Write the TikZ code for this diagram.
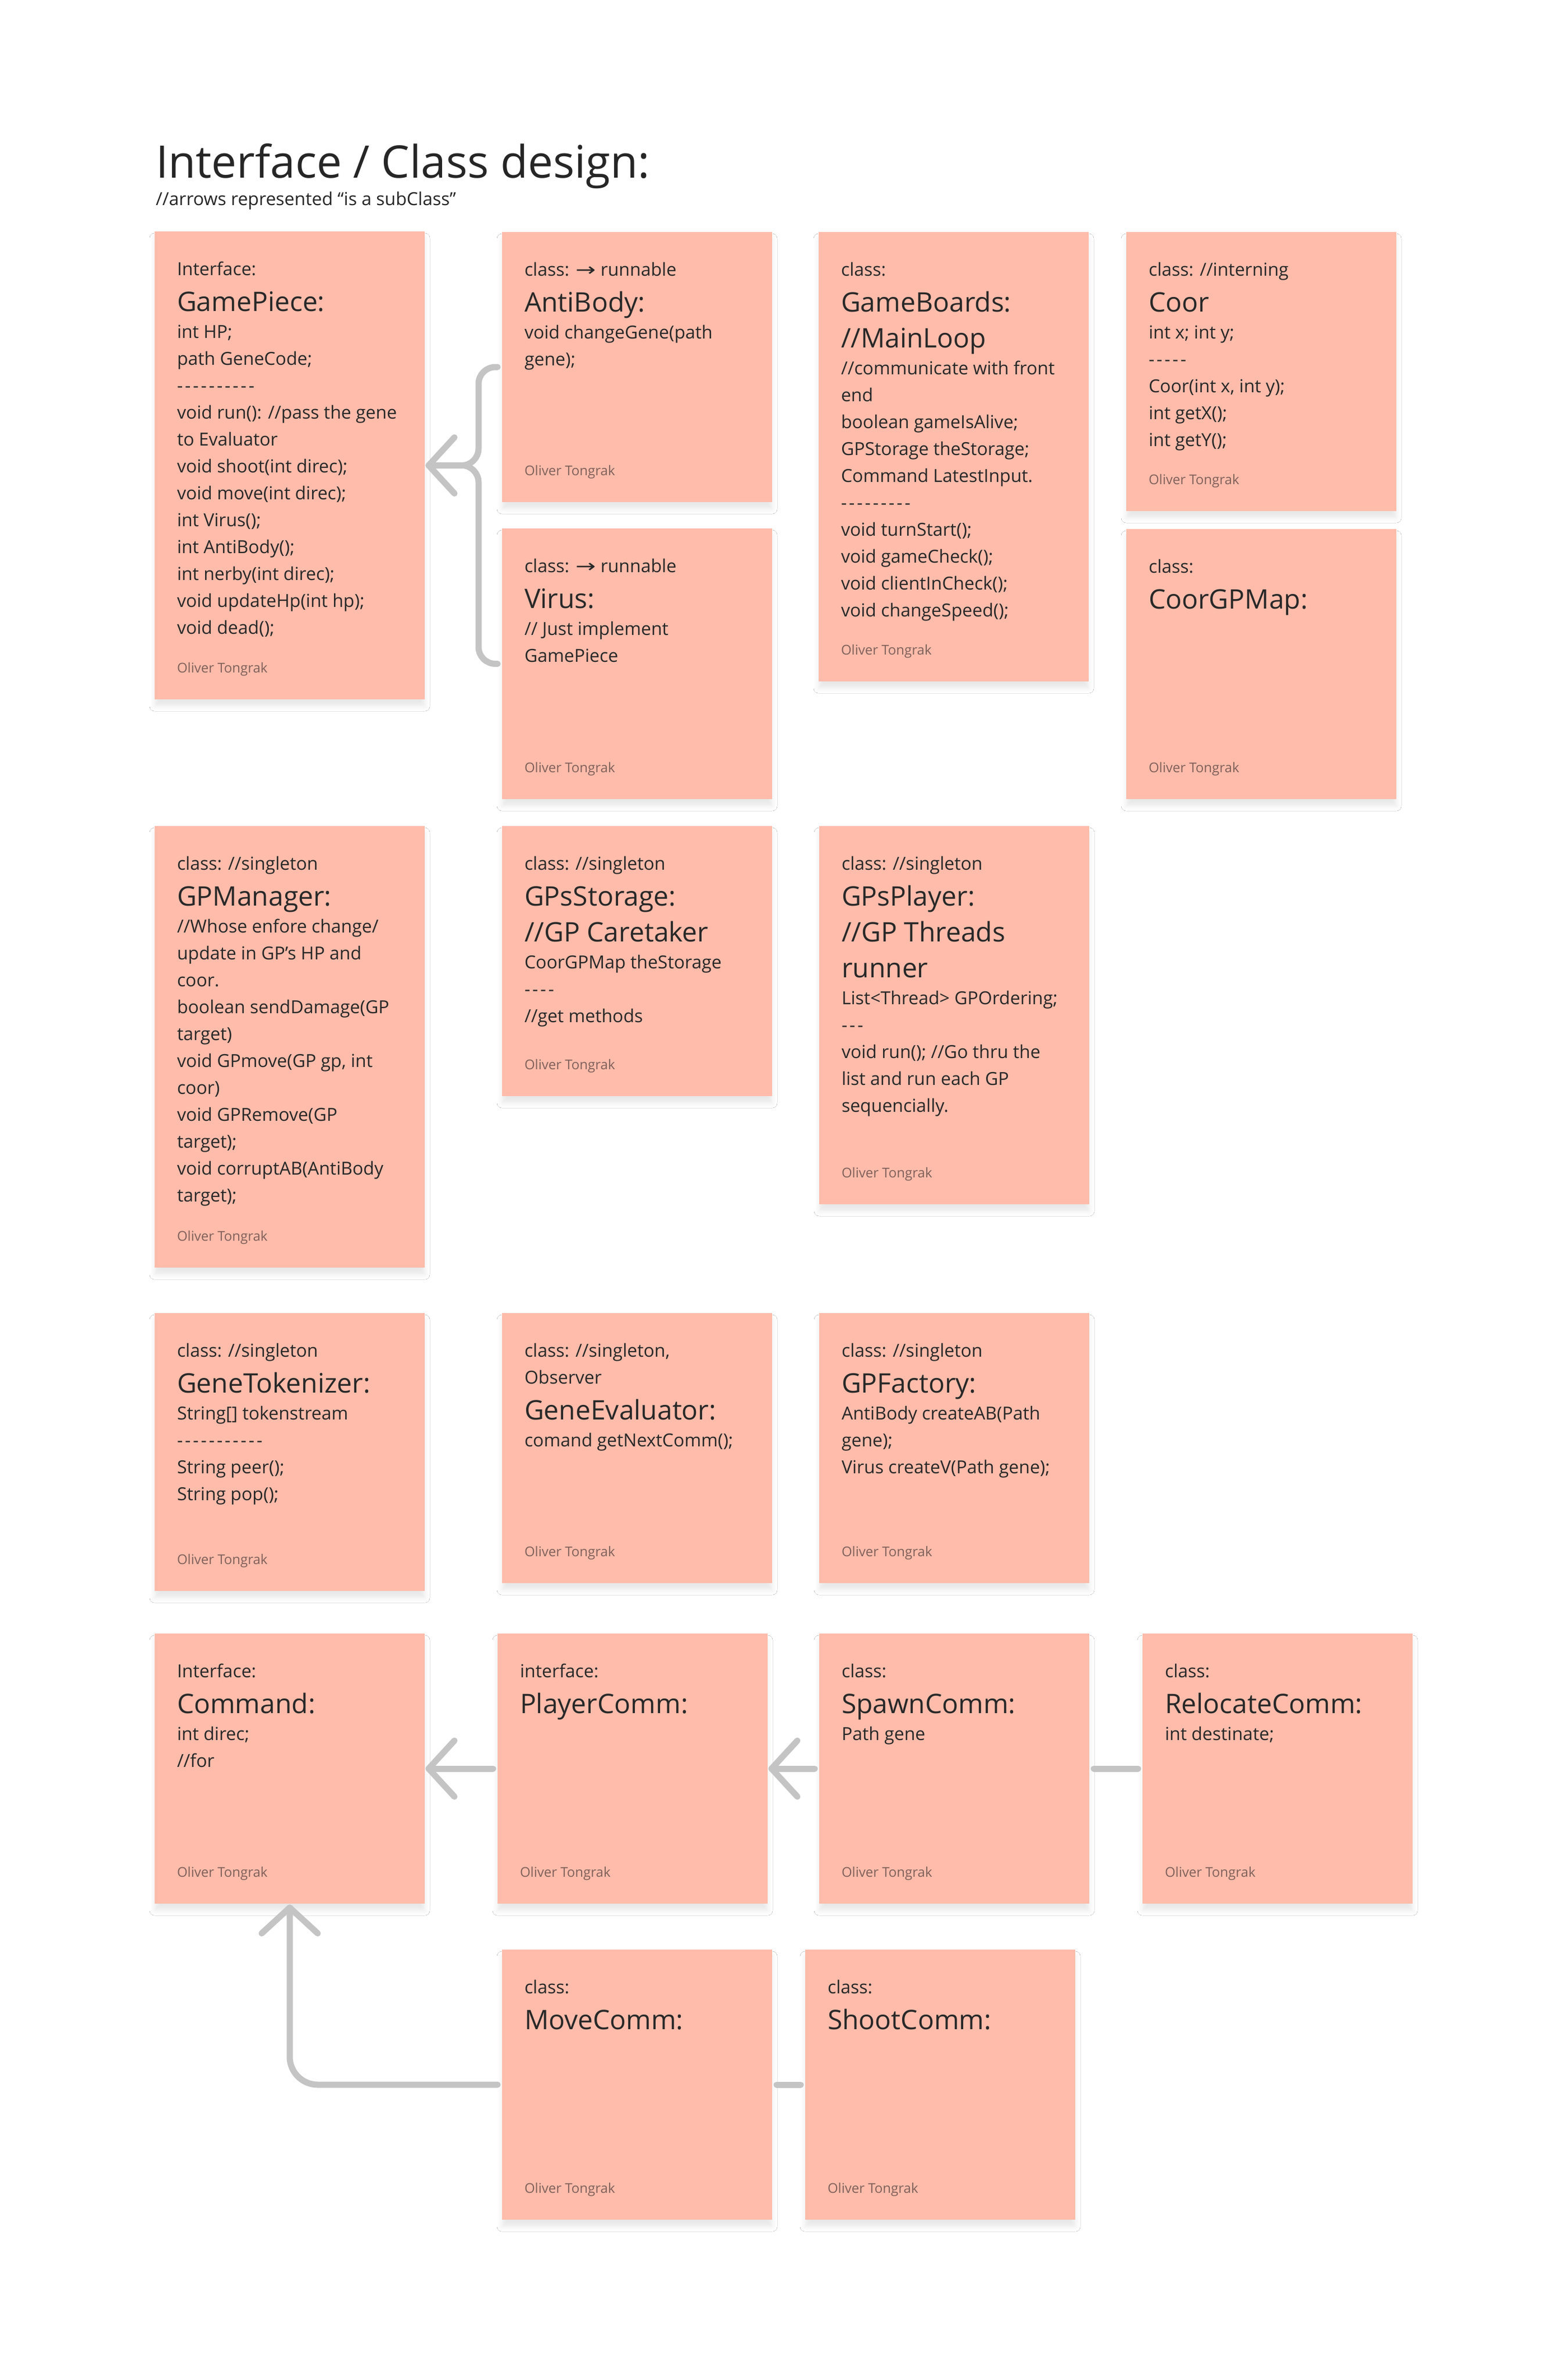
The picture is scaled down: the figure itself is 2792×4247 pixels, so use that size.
\documentclass[tikz,border=0pt]{standalone}
\usepackage{graphicx}
\usepackage{fontspec}
\setmainfont{Open Sans}
\newfontfamily\symfont{DejaVu Sans}
\usetikzlibrary{shadows.blur,calc}
\definecolor{stickyfill}{HTML}{FFBCAB}
\definecolor{ink}{HTML}{282828}
\definecolor{titleink}{HTML}{262626}
\definecolor{authorc}{HTML}{80605A}
\definecolor{conncol}{HTML}{C4C4C4}

\newcommand\Hd[1]{\hbox{\vrule height 48pt depth 0pt width 0pt\smash{\fontsize{32}{40}\selectfont #1}}}
\newcommand\Tt[1]{\hbox{\vrule height 64pt depth 0pt width 0pt\smash{\fontsize{48}{56}\selectfont #1}}}
\newcommand\Bd[1]{\hbox{\vrule height 48pt depth 0pt width 0pt\smash{\fontsize{32}{40}\selectfont #1}}}
\newcommand\RA{\scalebox{1.35}[1]{\symfont →}}
\newcommand\Dashes[1]{\foreach \dd in {1,...,#1}{-\kern3.9pt}}

\newcommand\Note[6]{%
  \node[note, minimum width=#4pt, minimum height=#5pt, anchor=north west] (#1) at (#2,#3) {};
  \node[notetext, anchor=north west] (#1-text) at ([shift={(40,30)}]#1.north west) {\vbox{\offinterlineskip #6}};
  \node[author, anchor=base west] (#1-author) at ([shift={(40,-48)}]#1.south west) {Oliver Tongrak};
}

\tikzset{
  note/.style={fill=stickyfill, draw=none, inner sep=0pt, outer sep=0pt,
    blur shadow={shadow xshift=0pt, shadow yshift=-12pt, shadow blur radius=9pt, shadow opacity=9}},
  notetext/.style={inner sep=0pt, outer sep=0pt, text=ink},
  author/.style={inner sep=0pt, outer sep=0pt, text=authorc, font=\fontsize{24}{30}\selectfont},
  conn/.style={draw=conncol, line width=11pt, line cap=round, line join=round},
}

\begin{document}
\begin{tikzpicture}[x=1pt,y=-1pt]
\useasboundingbox (0,0) rectangle (2792,4247);
\fill[white] (0,0) rectangle (2792,4247);

\node[anchor=base west, inner sep=0pt, text=titleink, font=\fontsize{80}{94}\selectfont] (title) at (278,317) {Interface / Class design:};
\node[anchor=base west, inner sep=0pt, text=titleink, font=\fontsize{32}{40}\selectfont] (subtitle) at (278,366) {//arrows represented “is a subClass”};

% Row 1
\Note{gp}{276}{413}{482}{835}{\Hd{Interface:}\Tt{GamePiece:}\Bd{int HP;}\Bd{path GeneCode;}\Bd{\Dashes{10}}\Bd{void run(): //pass the gene}\Bd{to Evaluator}\Bd{void shoot(int direc);}\Bd{void move(int direc);}\Bd{int Virus();}\Bd{int AntiBody();}\Bd{int nerby(int direc);}\Bd{void updateHp(int hp);}\Bd{void dead();}}
\Note{ab}{896}{414}{482}{482}{\Hd{class: \RA\ runnable}\Tt{AntiBody:}\Bd{void changeGene(path}\Bd{gene);}}
\Note{vir}{896}{943}{482}{483}{\Hd{class: \RA\ runnable}\Tt{Virus:}\Bd{// Just implement}\Bd{GamePiece}}
\Note{gb}{1461}{414}{482}{802}{\Hd{class:}\Tt{GameBoards:}\Tt{//MainLoop}\Bd{//communicate with front}\Bd{end}\Bd{boolean gameIsAlive;}\Bd{GPStorage theStorage;}\Bd{Command LatestInput.}\Bd{\Dashes{9}}\Bd{void turnStart();}\Bd{void gameCheck();}\Bd{void clientInCheck();}\Bd{void changeSpeed();}}
\Note{coor}{2010}{414}{482}{498}{\Hd{class: //interning}\Tt{Coor}\Bd{int x; int y;}\Bd{\Dashes{5}}\Bd{Coor(int x, int y);}\Bd{int getX();}\Bd{int getY();}}
\Note{cgm}{2010}{944}{482}{482}{\Hd{class:}\Tt{CoorGPMap:}}

% Row 2
\Note{gpm}{276}{1474}{482}{788}{\Hd{class: //singleton}\Tt{GPManager:}\Bd{//Whose enfore change/}\Bd{update in GP’s HP and}\Bd{coor.}\Bd{boolean sendDamage(GP}\Bd{target)}\Bd{void GPmove(GP gp, int}\Bd{coor)}\Bd{void GPRemove(GP}\Bd{target);}\Bd{void corruptAB(AntiBody}\Bd{target);}}
\Note{gps}{896}{1474}{482}{482}{\Hd{class: //singleton}\Tt{GPsStorage:}\Tt{//GP Caretaker}\Bd{CoorGPMap theStorage}\Bd{\Dashes{4}}\Bd{//get methods}}
\Note{gpp}{1462}{1474}{482}{675}{\Hd{class: //singleton}\Tt{GPsPlayer:}\Tt{//GP Threads}\Tt{runner}\Bd{List<Thread> GPOrdering;}\Bd{\Dashes{3}}\Bd{void run(); //Go thru the}\Bd{list and run each GP}\Bd{sequencially.}}

% Row 3
\Note{gt}{276}{2343}{482}{496}{\Hd{class: //singleton}\Tt{GeneTokenizer:}\Bd{String[] tokenstream}\Bd{\Dashes{11}}\Bd{String peer();}\Bd{String pop();}}
\Note{ge}{896}{2343}{482}{482}{\Hd{class: //singleton,}\Hd{Observer}\Tt{GeneEvaluator:}\Bd{comand getNextComm();}}
\Note{gpf}{1462}{2343}{482}{482}{\Hd{class: //singleton}\Tt{GPFactory:}\Bd{AntiBody createAB(Path}\Bd{gene);}\Bd{Virus createV(Path gene);}}

% Row 4
\Note{cmd}{276}{2915}{482}{482}{\Hd{Interface:}\Tt{Command:}\Bd{int direc;}\Bd{//for}}
\Note{pc}{888}{2915}{482}{482}{\Hd{interface:}\Tt{PlayerComm:}}
\Note{sc}{1462}{2915}{482}{482}{\Hd{class:}\Tt{SpawnComm:}\Bd{Path gene}}
\Note{rc}{2039}{2915}{482}{482}{\Hd{class:}\Tt{RelocateComm:}\Bd{int destinate;}}

% Row 5
\Note{mc}{896}{3479}{482}{482}{\Hd{class:}\Tt{MoveComm:}}
\Note{shc}{1437}{3479}{482}{482}{\Hd{class:}\Tt{ShootComm:}}

% Connectors
\coordinate (bj) at ([xshift=96pt]gp.east);
\coordinate (gptip) at ([xshift=7pt]gp.east);
\draw[conn, rounded corners=30pt, shorten <=8pt] (ab.west) -| (bj) -- (gptip);
\draw[conn, rounded corners=30pt, shorten <=8pt] (vir.west) -| (bj) -- (gptip);
\draw[conn] ([shift={(46,-50)}]gptip) -- (gptip) -- ([shift={(46,50)}]gptip);

\coordinate (cmdE) at ([xshift=7pt]cmd.east);
\draw[conn, shorten <=8pt] (pc.west) -- (cmdE);
\draw[conn] ([shift={(46,-50)}]cmdE) -- (cmdE) -- ([shift={(46,50)}]cmdE);

\coordinate (pcE) at ([xshift=7pt]pc.east);
\draw[conn, shorten <=8pt] (sc.west) -- (pcE);
\draw[conn] ([shift={(46,-50)}]pcE) -- (pcE) -- ([shift={(46,50)}]pcE);

\draw[conn, shorten <=8pt, shorten >=8pt] (sc.east) -- (rc.west);

\coordinate (cmdS) at ([yshift=-7pt]cmd.south);
\draw[conn, rounded corners=50pt, shorten <=8pt] (mc.west) -| (cmdS);
\draw[conn] ([shift={(-50,46)}]cmdS) -- (cmdS) -- ([shift={(50,46)}]cmdS);

\draw[conn, shorten <=8pt, shorten >=8pt] (mc.east) -- (shc.west);
\end{tikzpicture}
\end{document}
